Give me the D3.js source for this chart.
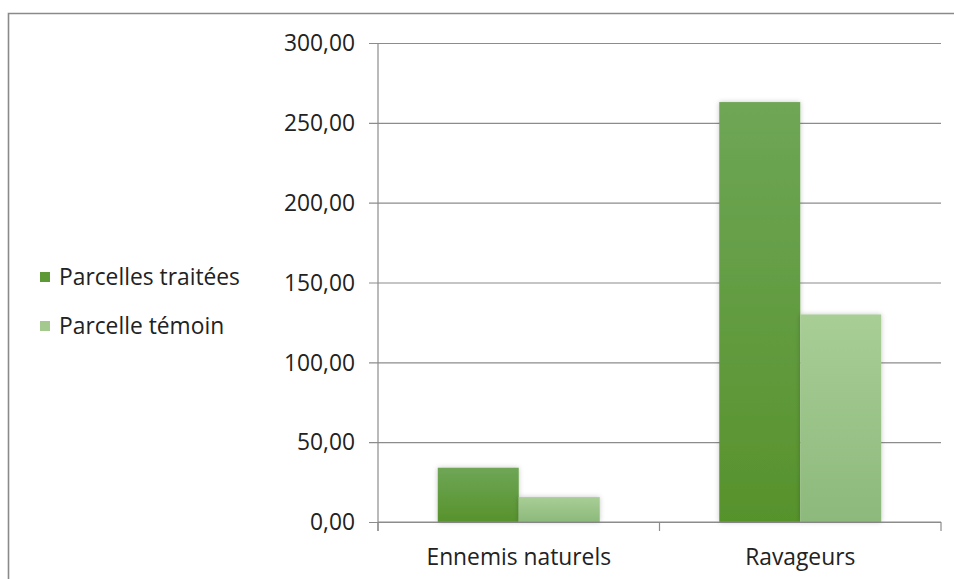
<!DOCTYPE html>
<html>
<head>
<meta charset="utf-8">
<script src="https://cdn.jsdelivr.net/npm/d3@7"></script>
<style>
  html, body { margin: 0; padding: 0; background: #fff; }
  svg { display: block; font-family: "Open Sans", sans-serif; }
</style>
</head>
<body>
<svg id="chart" width="954" height="579"></svg>
<script>
// Chart data
const categories = ["Ennemis naturels", "Ravageurs"];
const seriesNames = ["Parcelles traitées", "Parcelle témoin"];
const treatedValues = [34, 263];
const controlValues = [15.6, 130];
const yTicks = [0, 50, 100, 150, 200, 250, 300];

const svg = d3.select("#chart");
const W = 954, H = 579;
const FONT = "22.8px";

// Outer frame
svg.append("path")
  .attr("d", `M8.5,${H} V13.5 H${W}`)
  .attr("fill", "none")
  .attr("stroke", "#8a8a8a")
  .attr("stroke-width", 1.6);

const plot = { left: 378, right: 941, top: 43, bottom: 522 };

const defs = svg.append("defs");
const grads = [
  { id: "gTreated", top: "#6ea656", bottom: "#57922c" },
  { id: "gControl", top: "#a8ce96", bottom: "#8db97c" }
];
grads.forEach(g => {
  const lg = defs.append("linearGradient").attr("id", g.id)
    .attr("x1", 0).attr("y1", 0).attr("x2", 0).attr("y2", 1);
  lg.append("stop").attr("offset", "0%").attr("stop-color", g.top);
  lg.append("stop").attr("offset", "100%").attr("stop-color", g.bottom);
});
const shadow = defs.append("filter").attr("id", "shadow")
  .attr("x", "-20%").attr("y", "-20%").attr("width", "140%").attr("height", "140%");
shadow.append("feDropShadow").attr("dx", 0).attr("dy", 0).attr("stdDeviation", 2.5)
  .attr("flood-color", "#000").attr("flood-opacity", 0.22);

const y = d3.scaleLinear().domain([0, 300]).range([plot.bottom, plot.top]);
const x0 = d3.scaleBand().domain(categories).range([plot.left, plot.right]);

// Gridlines and y-axis ticks
const yAxis = d3.axisLeft(y).tickValues(yTicks)
  .tickSize(-(plot.right - plot.left))
  .tickFormat(d => d3.format(".2f")(d).replace(".", ","));
const gy = svg.append("g").attr("transform", `translate(${plot.left},0)`).call(yAxis);
gy.select(".domain").remove();
gy.selectAll(".tick line").attr("stroke", "#8c8c8c").attr("stroke-width", 1.2)
  .attr("x1", -9);
gy.selectAll(".tick text").attr("x", -23).attr("dy", "0.34em")
  .attr("fill", "#222").style("font-size", FONT).style("font-family", "'Open Sans', sans-serif");

// Vertical axis line
svg.append("line")
  .attr("x1", plot.left).attr("x2", plot.left)
  .attr("y1", plot.top).attr("y2", plot.bottom + 9)
  .attr("stroke", "#8c8c8c").attr("stroke-width", 1.2);

// Bars
const barW = 81;
const series = [
  { name: seriesNames[0], values: treatedValues, fill: "url(#gTreated)" },
  { name: seriesNames[1], values: controlValues, fill: "url(#gControl)" }
];
series.forEach((s, si) => {
  svg.append("g").selectAll("rect")
    .data(categories.map((c, i) => ({ c, v: s.values[i] })))
    .join("rect")
    .attr("x", d => x0(d.c) + x0.bandwidth() / 2 - barW + si * barW)
    .attr("y", d => y(d.v))
    .attr("width", barW)
    .attr("height", d => y(0) - y(d.v))
    .attr("fill", s.fill)
    .attr("filter", "url(#shadow)");
});

// Category axis
const xAxis = d3.axisBottom(x0).tickSize(0).tickPadding(0);
const gx = svg.append("g").attr("transform", `translate(0,${plot.bottom})`).call(xAxis);
gx.select(".domain").remove();
svg.append("line")
  .attr("x1", plot.left).attr("x2", plot.right)
  .attr("y1", plot.bottom).attr("y2", plot.bottom)
  .attr("stroke", "#8c8c8c").attr("stroke-width", 1.2);
gx.selectAll(".tick text").attr("y", 35).attr("dy", "0.35em")
  .attr("fill", "#222").style("font-size", FONT).style("font-family", "'Open Sans', sans-serif");
// category boundary ticks
const bounds = [plot.left].concat(categories.map(c => x0(c) + x0.bandwidth()));
svg.append("g").selectAll("line").data(bounds).join("line")
  .attr("x1", d => d).attr("x2", d => d)
  .attr("y1", plot.bottom).attr("y2", plot.bottom + 9)
  .attr("stroke", "#8c8c8c").attr("stroke-width", 1.2);

// Legend
const legendColors = ["#5d9a35", "#a3c98f"];
const lg = svg.append("g");
seriesNames.forEach((n, i) => {
  const yy = 277 + i * 49;
  lg.append("rect").attr("x", 40).attr("y", yy - 5).attr("width", 10).attr("height", 10)
    .attr("fill", legendColors[i]);
  lg.append("text").attr("x", 59).attr("y", yy).attr("dy", "0.35em")
    .attr("fill", "#222").style("font-size", FONT).text(n);
});
</script>
</body>
</html>
